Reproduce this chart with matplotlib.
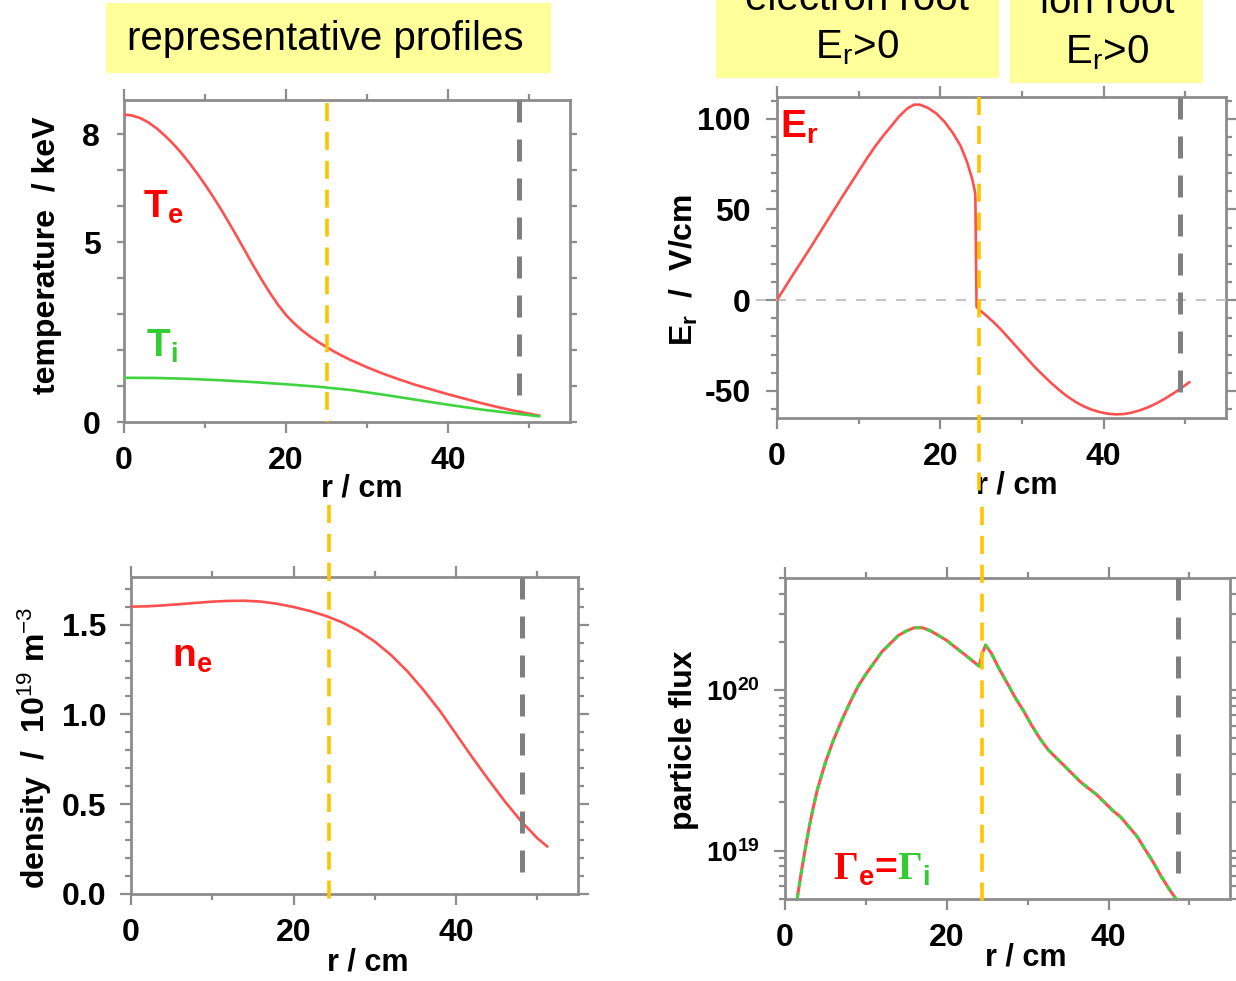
import matplotlib
matplotlib.use("Agg")
import matplotlib.pyplot as plt
from matplotlib.patches import Rectangle
from matplotlib.ticker import MultipleLocator, FixedLocator, FixedFormatter, LogLocator, NullFormatter

plt.rcParams["font.family"] = ["Liberation Sans", "DejaVu Sans"]
plt.rcParams["font.weight"] = "bold"
plt.rcParams["axes.labelweight"] = "bold"
plt.rcParams["axes.unicode_minus"] = False
plt.rcParams["mathtext.fontset"] = "custom"
plt.rcParams["mathtext.rm"] = "Liberation Serif:bold"
plt.rcParams["mathtext.sf"] = "Liberation Sans:normal"
plt.rcParams["mathtext.bf"] = "Liberation Sans:bold"
plt.rcParams["mathtext.it"] = "Liberation Sans:italic"

# ---------------- profile data (r in cm) ----------------
r_te = [0, 1, 2, 3, 4, 5, 6, 7, 8, 9, 10, 11, 12, 13, 14, 15, 16, 17, 18, 19, 20, 21, 22,
        23, 24, 25, 26, 27, 28, 29, 30, 32, 34, 36, 38, 40, 42, 44, 46, 48, 50, 51.2]
t_e = [8.55, 8.52, 8.45, 8.33, 8.17, 7.97, 7.75, 7.5, 7.22, 6.92, 6.6, 6.26, 5.9, 5.52,
       5.13, 4.73, 4.33, 3.95, 3.59, 3.26, 2.97, 2.74, 2.54, 2.37, 2.22, 2.08, 1.95, 1.83,
       1.72, 1.62, 1.52, 1.34, 1.18, 1.03, 0.9, 0.77, 0.65, 0.53, 0.42, 0.32, 0.23, 0.18]

r_ti = [0, 4, 8, 12, 16, 20, 24, 28, 32, 36, 40, 44, 48, 51.2]
t_i = [1.23, 1.225, 1.2, 1.16, 1.11, 1.05, 0.98, 0.89, 0.76, 0.62, 0.48, 0.35, 0.24, 0.16]

r_er = [0, 1, 2, 3, 4, 5, 6, 7, 8, 9, 10, 11, 12, 13, 14, 15, 16, 16.8, 17.5, 18.5, 19.5,
        20.5, 21.5, 22.5, 23.3, 23.9, 24.2, 24.3, 24.45, 24.7, 25.5, 26.5, 27.5, 28.5, 29.5,
        30.5, 31.5, 32.5, 33.5, 34.5, 35.5, 36.5, 37.5, 38.5, 39.5, 40.5, 41.5, 42.5, 43.5,
        44.5, 45.5, 46.5, 47.5, 48.5, 49.5, 50.5]
e_r = [0, 7.2, 14.3, 21.2, 28.2, 35.4, 42.6, 49.8, 57, 64, 71, 78, 84.6, 90.5, 96, 101.5,
       105.8, 107.8, 107.8, 106, 103, 98.5, 92.5, 85, 76, 67, 61, 58, -3.7, -5, -8, -12,
       -16.5, -21.5, -26.5, -31.5, -36.5, -41, -45.3, -49.3, -52.9, -55.9, -58.4, -60.3,
       -61.7, -62.6, -63, -62.8, -62, -60.7, -59, -56.9, -54.4, -51.6, -48.6, -45.3]

r_ne = [0, 2, 4, 6, 8, 10, 12, 14, 16, 18, 20, 22, 24, 26, 28, 30, 32, 34, 36, 38, 40, 42,
        44, 46, 48, 50, 51.2]
n_e = [1.600, 1.602, 1.607, 1.614, 1.621, 1.628, 1.632, 1.633, 1.628, 1.616, 1.598, 1.576,
       1.548, 1.512, 1.465, 1.405, 1.33, 1.24, 1.135, 1.02, 0.89, 0.76, 0.635, 0.515, 0.405,
       0.31, 0.265]

r_flux = [1.5, 2.0, 2.5, 3.0, 3.5, 4.0, 5, 6, 7, 8, 9, 10, 11, 12, 13, 14, 15, 16, 17, 18,
          19, 20, 21, 22, 23, 24.0, 24.4, 24.8, 25.5, 26.5, 27.5, 28.5, 29.5, 30.5, 31.5,
          32.5, 33.5, 34.5, 35.5, 36.5, 37.5, 38.5, 39.5, 40.5, 41.5, 42.5, 43.5, 44.5, 45.5,
          46.5, 47.5, 48.6]
flux = [5.01e18, 7.24e18, 1.02e19, 1.41e19, 1.86e19, 2.40e19, 3.55e19, 4.90e19, 6.46e19,
        8.32e19, 1.05e20, 1.26e20, 1.48e20, 1.74e20, 1.95e20, 2.19e20, 2.34e20, 2.45e20,
        2.45e20, 2.34e20, 2.19e20, 2.04e20, 1.86e20, 1.70e20, 1.55e20, 1.41e20, 1.70e20,
        1.91e20, 1.70e20, 1.35e20, 1.10e20, 8.91e19, 7.41e19, 6.03e19, 5.01e19, 4.27e19,
        3.80e19, 3.39e19, 3.02e19, 2.69e19, 2.45e19, 2.24e19, 2.00e19, 1.78e19, 1.62e19,
        1.41e19, 1.23e19, 1.02e19, 8.51e18, 6.92e18, 5.75e18, 4.79e18]

# root-transition radius and plasma edge for each panel (cm)
r_transition = {"T": 25.0, "Er": 24.7, "n": 24.3, "flux": 24.3}
r_edge = {"T": 48.7, "Er": 49.4, "n": 48.1, "flux": 48.6}

SPINE = "#8c8c8c"
RED_LINE = "#ff5050"
GREEN_LINE = "#3fd43f"
YELLOW = "#ffc400"
GRAY_DASH = "#7f7f7f"
BOX_YELLOW = "#ffff99"

fig = plt.figure(figsize=(12.36, 9.81), dpi=100)


def style_axes(ax, ypad):
    for s in ax.spines.values():
        s.set_color(SPINE)
        s.set_linewidth(2.0)
    ax.set_xlim(0, 55)
    ax.xaxis.set_major_locator(MultipleLocator(20))
    ax.xaxis.set_minor_locator(MultipleLocator(10))
    ax.tick_params(axis="both", which="both", direction="out", top=True, right=True,
                   color=SPINE, width=1.6, labelsize=23)
    ax.tick_params(axis="both", which="major", length=8)
    ax.tick_params(axis="both", which="minor", length=4.5)
    ax.tick_params(axis="x", which="major", pad=9)
    ax.tick_params(axis="y", which="major", pad=ypad)


def edge_lines(ax, key, ytop_tr, ybot_tr, ybot_edge):
    tr = ax.get_xaxis_transform()
    x = r_transition[key]
    ax.plot([x, x], [ytop_tr, ybot_tr], transform=tr, color=YELLOW, lw=2.6,
            linestyle=(0, (5.0, 3.0)), clip_on=False, zorder=6, dash_capstyle="butt")
    xe = r_edge[key]
    ax.plot([xe, xe], [1.0, ybot_edge], transform=tr, color=GRAY_DASH, lw=3.6,
            linestyle=(0, (4.4, 3.4)), clip_on=False, zorder=6, dash_capstyle="butt")


# ---------------- temperature ----------------
ax1 = fig.add_axes([0.1003, 0.5698, 0.3608, 0.3282])
style_axes(ax1, ypad=12)
ax1.set_ylim(0, 8.95)
ax1.yaxis.set_major_locator(FixedLocator(list(range(0, 9))))
ax1.yaxis.set_major_formatter(FixedFormatter(["0", "", "", "", "", "5", "", "", "8"]))
ax1.tick_params(axis="y", which="major", length=5)
ax1.plot(r_te, t_e, color=RED_LINE, lw=1.9, zorder=4)
ax1.plot(r_ti, t_i, color=GREEN_LINE, lw=1.9, zorder=4)
ax1.text(0.043, 0.634, r"$\mathbf{T_e}$", color="red", fontsize=28, transform=ax1.transAxes,
         va="baseline")
ax1.text(0.049, 0.202, r"$\mathbf{T_i}$", color="#33cc33", fontsize=28,
         transform=ax1.transAxes, va="baseline")
ax1.set_xlabel("r / cm", fontsize=22, va="center")
ax1.xaxis.set_label_coords(0.534, -0.205)
ax1.set_ylabel("temperature  / keV", fontsize=23, va="center")
ax1.yaxis.set_label_coords(-0.173, 0.519)
edge_lines(ax1, "T", 0.99, 0.0, 0.05)

# ---------------- radial electric field ----------------
ax2 = fig.add_axes([0.6286, 0.5739, 0.3633, 0.3272])
style_axes(ax2, ypad=11)
ax2.set_ylim(-65, 112)
ax2.yaxis.set_major_locator(FixedLocator([-50, 0, 50, 100]))
ax2.yaxis.set_minor_locator(MultipleLocator(10))
ax2.plot([-2.6, 57], [0, 0], color="#c4c4c4", lw=1.5, linestyle=(0, (4.8, 4.8)),
         clip_on=False, zorder=3)
ax2.plot(r_er, e_r, color=RED_LINE, lw=1.9, zorder=4)
ax2.text(0.007, 0.965, r"$\mathbf{E_r}$", color="red", fontsize=28, transform=ax2.transAxes,
         va="top")
ax2.set_xlabel("r / cm", fontsize=22, va="center")
ax2.xaxis.set_label_coords(0.533, -0.209)
ax2.set_ylabel(r"$\mathbf{E_r}$  /  V/cm", fontsize=23, va="center")
ax2.yaxis.set_label_coords(-0.208, 0.461)
edge_lines(ax2, "Er", 1.0, -0.255, 0.047)

# ---------------- density ----------------
ax3 = fig.add_axes([0.106, 0.0887, 0.3617, 0.3231])
style_axes(ax3, ypad=10)
ax3.set_ylim(0, 1.765)
ax3.yaxis.set_major_locator(FixedLocator([0.0, 0.5, 1.0, 1.5]))
ax3.yaxis.set_major_formatter(FixedFormatter(["0.0", "0.5", "1.0", "1.5"]))
ax3.yaxis.set_minor_locator(MultipleLocator(0.1))
ax3.plot(r_ne, n_e, color=RED_LINE, lw=1.9, zorder=4)
ax3.text(0.092, 0.716, r"$\mathbf{n_e}$", color="red", fontsize=28, transform=ax3.transAxes,
         va="baseline")
ax3.set_xlabel("r / cm", fontsize=22, va="center")
ax3.xaxis.set_label_coords(0.53, -0.215)
ax3.set_ylabel(r"density  /  10$^{\mathsf{19}}$ m$^{\mathsf{-3}}$", fontsize=23, va="center")
ax3.yaxis.set_label_coords(-0.215, 0.46)
edge_lines(ax3, "n", 1.227, -0.019, 0.05)

# ---------------- particle flux ----------------
ax4 = fig.add_axes([0.6351, 0.0836, 0.360, 0.3272])
style_axes(ax4, ypad=10)
ax4.set_yscale("log")
ax4.set_ylim(5e18, 5e20)
ax4.yaxis.set_major_locator(FixedLocator([1e19, 1e20]))
ax4.yaxis.set_major_formatter(FixedFormatter([r"$\mathbf{10^{19}}$", r"$\mathbf{10^{20}}$"]))
ax4.yaxis.set_minor_locator(LogLocator(base=10, subs=range(2, 10)))
ax4.yaxis.set_minor_formatter(NullFormatter())
ax4.tick_params(axis="y", which="major", labelsize=20)
ax4.plot(r_flux, flux, color=RED_LINE, lw=2.2, zorder=4)
ax4.plot(r_flux, flux, color=GREEN_LINE, lw=2.2, linestyle=(0, (2.0, 2.0)), zorder=4)
g1 = ax4.text(0.107, 0.059, r"$\Gamma_{\mathbf{e}}$=", color="red", fontsize=28,
              transform=ax4.transAxes, va="baseline")
ax4.annotate(r"$\Gamma_{\mathbf{i}}$", xy=(1, 0), xycoords=g1, va="bottom", ha="left",
             color="#33cc33", fontsize=28)
ax4.set_xlabel("r / cm", fontsize=22, va="center")
ax4.xaxis.set_label_coords(0.542, -0.181)
ax4.set_ylabel("particle flux", fontsize=23, va="center")
ax4.yaxis.set_label_coords(-0.228, 0.495)
edge_lines(ax4, "flux", 1.22, -0.005, 0.06)

# ---------------- header boxes ----------------
W, H = 1236.0, 981.0


def header_box(x0, x1, y0, y1):
    fig.add_artist(Rectangle((x0 / W, 1 - y1 / H), (x1 - x0) / W, (y1 - y0) / H,
                             transform=fig.transFigure, facecolor=BOX_YELLOW,
                             edgecolor="none", zorder=0))


header_box(106, 551, 3, 73)
fig.text(325 / W, 1 - 50 / H, "representative profiles", fontsize=29, fontweight="normal",
         ha="center", va="baseline")

header_box(716, 999, -5, 78)
fig.text(857 / W, 1 - 10 / H, "electron root", fontsize=29, fontweight="normal",
         ha="center", va="baseline")
fig.text(857 / W, 1 - 58 / H, r"E$_\mathsf{r}$>0", fontsize=29, fontweight="normal",
         ha="center", va="baseline")

header_box(1010, 1203, -5, 83)
fig.text(1107 / W, 1 - 13 / H, "ion root", fontsize=29, fontweight="normal",
         ha="center", va="baseline")
fig.text(1107 / W, 1 - 63 / H, r"E$_\mathsf{r}$>0", fontsize=29, fontweight="normal",
         ha="center", va="baseline")

fig.savefig("out.png", dpi=100, facecolor="white")
